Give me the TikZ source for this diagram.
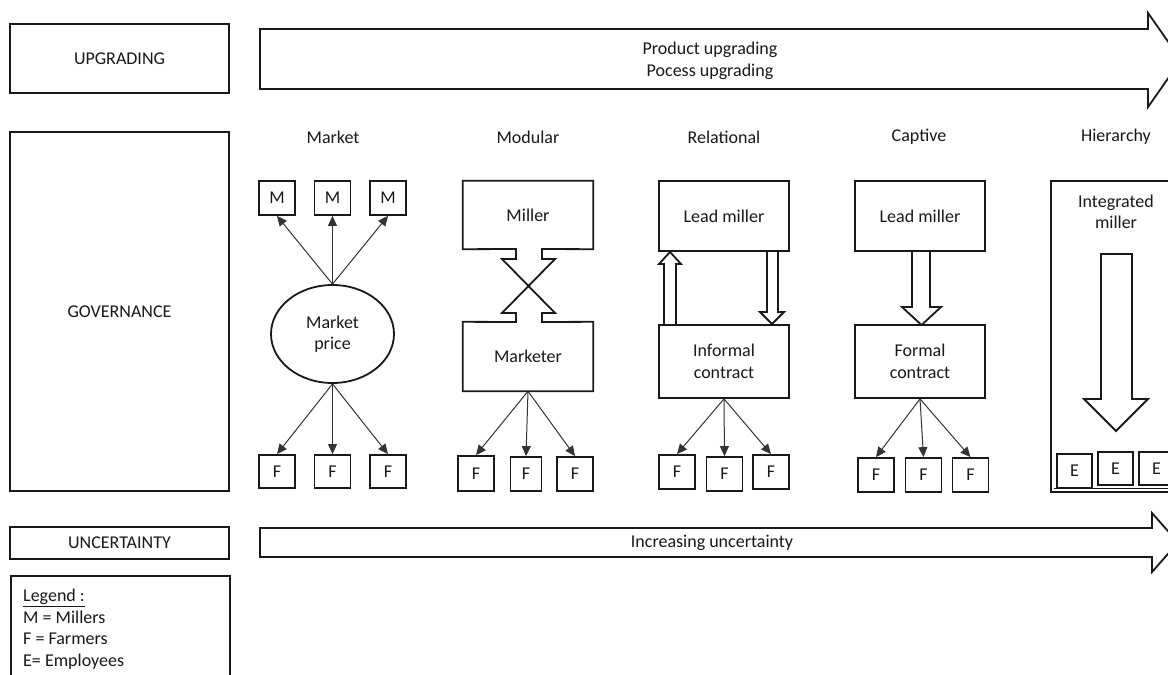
\documentclass[tikz,border=0pt]{standalone}
\usepackage{fontspec}
\setmainfont{Carlito}
\usetikzlibrary{arrows.meta,shapes.geometric}
\begin{document}
\begin{tikzpicture}[x=1pt,y=-1pt,
  every node/.style={font=\fontsize{18}{21.6}\selectfont, text=black!90},
  bx/.style={draw=black!90, line width=1.8pt, inner sep=0pt},
  sbox/.style={bx, minimum width=36pt, minimum height=34pt},
  conn/.style={line width=1pt, draw=black!80, -{Triangle[length=10pt,width=9pt]}},
  blk/.style={draw=black!90, line width=1.8pt, fill=white, line join=miter},
  lbl/.style={inner sep=0pt}]
\clip (0,0) rectangle (1168,675);
\fill[white] (0,0) rectangle (1168,675);

% left column
\node[bx, minimum width=219pt, minimum height=69pt] (upg) at (119.5,58.5) {UPGRADING};
\node[bx, minimum width=219pt, minimum height=359pt] (gov) at (119.5,311.5) {GOVERNANCE};
\node[bx, minimum width=219pt, minimum height=32pt] (unc) at (119.5,543) {UNCERTAINTY};
\node[bx, minimum width=219pt, minimum height=125pt, anchor=north west] (leg) at (10,575) {};
\node[lbl, anchor=north west, align=left] (legt) at (23,589) {\underline{Legend :}\\M = Millers\\F = Farmers\\E= Employees};

% big arrows
\draw[blk] (260,29) -- (1148,29) -- (1148,13) -- (1181,60) -- (1148,107) -- (1148,89) -- (260,89) -- cycle;
\node[align=center] (upt) at (710,60.5) {Product upgrading\\Pocess upgrading};
\draw[blk] (260,528) -- (1152,528) -- (1152,513) -- (1178,542.5) -- (1152,572) -- (1152,557) -- (260,557) -- cycle;
\node (unt) at (712,543) {Increasing uncertainty};

% headers
\node (hmk) at (333,137) {Market};
\node (hmo) at (528,137) {Modular};
\node (hre) at (724,137) {Relational};
\node (hca) at (919,137) {Captive};
\node (hhi) at (1116,137) {Hierarchy};

% Market
\node[sbox] (m1) at (277,198) {M};
\node[sbox] (m2) at (332.5,198) {M};
\node[sbox] (m3) at (388,198) {M};
\node[ellipse, draw=black!90, line width=1.8pt, minimum width=123pt, minimum height=98pt, align=center, inner sep=0pt] (mp) at (332.5,334) {Market\\price};
\node[sbox, minimum height=33pt] (mf1) at (277,471.5) {F};
\node[sbox, minimum height=33pt] (mf2) at (332.5,471.5) {F};
\node[sbox, minimum height=33pt] (mf3) at (388,471.5) {F};
\draw[conn] (mp.north) -- (m1.south);
\draw[conn] (mp.north) -- (m2.south);
\draw[conn] (mp.north) -- (m3.south);
\draw[conn] (mp.south) -- (mf1.north);
\draw[conn] (mp.south) -- (mf2.north);
\draw[conn] (mp.south) -- (mf3.north);

% Modular
\node[inner sep=0pt, minimum width=130pt, minimum height=68pt] (mil) at (528,215) {Miller};
\node[inner sep=0pt, minimum width=130pt, minimum height=69pt] (mkt) at (528,356.5) {Marketer};
\draw[draw=black!90, line width=1.8pt, line join=miter]
  (516,249) -- (mil.south west) -- (mil.north west) -- (mil.north east) -- (mil.south east)
  -- (542,249) -- (542,259) -- (555,259) -- (502,313) -- (516,313) -- (516,322)
  -- (mkt.north west) -- (mkt.south west) -- (mkt.south east) -- (mkt.north east)
  -- (542,322) -- (542,313) -- (555,313) -- (502,259) -- (516,259) -- cycle;
\node[sbox, minimum height=35pt] (df1) at (476,473.5) {F};
\node[sbox, minimum width=31pt, minimum height=34pt] (df2) at (526,474) {F};
\node[sbox, minimum height=34pt] (df3) at (575,474) {F};
\draw[conn] (mkt.south) -- (df1.north);
\draw[conn] (mkt.south) -- (df2.north);
\draw[conn] (mkt.south) -- (df3.north);

% Relational
\node[bx, minimum width=130pt, minimum height=70pt] (rlm) at (724,216) {Lead miller};
\node[bx, minimum width=130pt, minimum height=73pt, align=center] (ric) at (724,361.5) {Informal\\contract};
\draw[blk] (664,325) -- (664,264) -- (659,264) -- (670,252) -- (681,264) -- (676,264) -- (676,325) -- cycle;
\draw[blk] (767,251) -- (767,312) -- (760,312) -- (772,324) -- (784,312) -- (778,312) -- (778,251) -- cycle;
\node[sbox] (rf1) at (677,472) {F};
\node[sbox] (rf2) at (724.5,474) {F};
\node[sbox] (rf3) at (771,472) {F};
\draw[conn] (ric.south) -- (rf1.north);
\draw[conn] (ric.south) -- (rf2.north);
\draw[conn] (ric.south) -- (rf3.north);

% Captive
\node[bx, minimum width=130pt, minimum height=70pt] (clm) at (920,216) {Lead miller};
\node[bx, minimum width=130pt, minimum height=73pt, align=center] (cfc) at (920,361.5) {Formal\\contract};
\draw[blk] (912,251) -- (912,307) -- (902,307) -- (921.5,325) -- (941,307) -- (930,307) -- (930,251) -- cycle;
\node[sbox] (cf1) at (876,475) {F};
\node[sbox] (cf2) at (923.5,475) {F};
\node[sbox] (cf3) at (970.5,475) {F};
\draw[conn] (cfc.south) -- (cf1.north);
\draw[conn] (cfc.south) -- (cf2.north);
\draw[conn] (cfc.south) -- (cf3.north);

% Hierarchy
\node[bx, minimum width=130pt, minimum height=311pt] (hbx) at (1116,336.5) {};
\draw[draw=black!90, line width=1pt] (1054,488) -- (1182,488);
\node[lbl, align=center] (him) at (1116,212) {Integrated\\miller};
\draw[blk] (1101,254) -- (1101,399) -- (1084,399) -- (1116,431) -- (1148,399) -- (1132,399) -- (1132,254) -- cycle;
\node[sbox, minimum width=35pt] (e1) at (1074.5,471) {E};
\node[sbox, minimum width=35pt, minimum height=33pt] (e2) at (1115.5,468.5) {E};
\node[sbox, minimum width=35pt, minimum height=33pt] (e3) at (1156.5,468.5) {E};
\end{tikzpicture}
\end{document}
